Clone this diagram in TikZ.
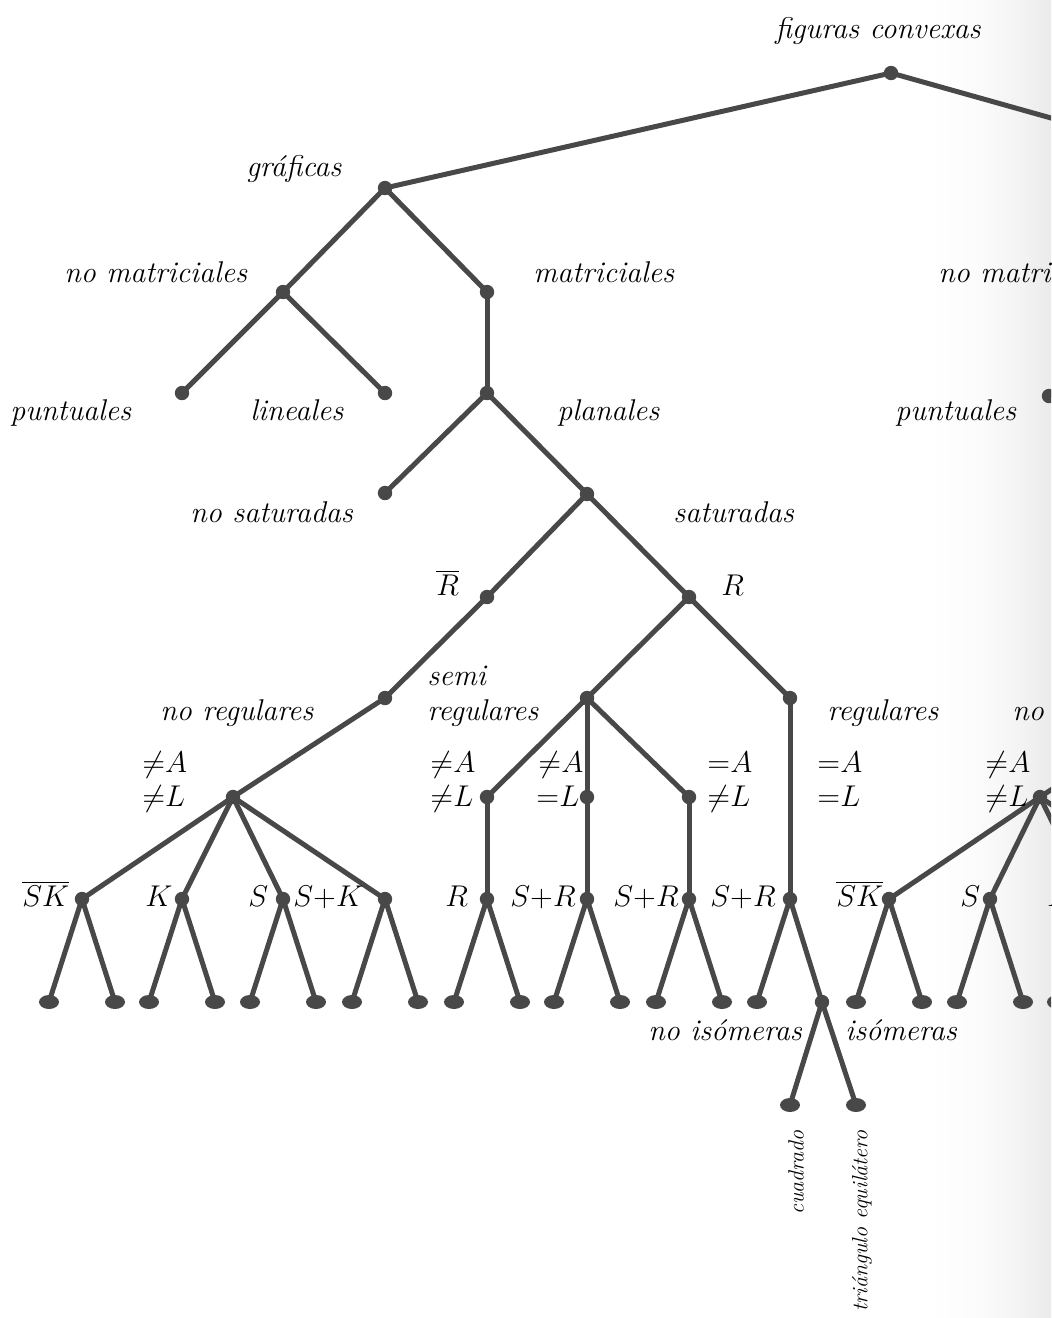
\RequirePackage{fix-cm}
\documentclass[tikz,border=0pt]{standalone}
\usepackage{fontspec}
\usetikzlibrary{shapes.geometric}
\definecolor{treegray}{RGB}{72,72,72}
\newcommand\lbfont{\fontsize{15}{18}\selectfont\itshape}
\newcommand\smallfont{\fontsize{11}{13}\selectfont\itshape}
\pgfdeclarehorizontalshading{gutter}{100bp}{rgb(0bp)=(1,1,1); rgb(25bp)=(1,1,1); rgb(45bp)=(0.985,0.985,0.985); rgb(60bp)=(0.96,0.96,0.96); rgb(75bp)=(0.92,0.92,0.92); rgb(100bp)=(0.83,0.83,0.83)}
\tikzset{
  edge/.style={draw=treegray, line width=2.5pt, line cap=round},
  dotnode/.style={circle, fill=treegray, inner sep=0pt, minimum size=7.2pt},
  leafnode/.style={ellipse, fill=treegray, inner sep=0pt, minimum width=10pt, minimum height=7pt},
  lbl/.style={font=\lbfont, inner sep=0pt, anchor=base west},
  vlbl/.style={font=\smallfont, inner sep=0pt, rotate=90, anchor=east}
}
\begin{document}
\begin{tikzpicture}[x=0.5pt, y=-0.5pt]
\useasboundingbox (0,0) rectangle (1051,1318);
\clip (0,0) rectangle (1051,1318);
% shadow of the binding along the right margin
\shade[shading=gutter] (930,0) rectangle (1051,1318);

% ---------- nodes ----------
\node[dotnode] (root) at (891,73) {};
\coordinate (rG) at (1300,188);
\node[dotnode] (g) at (385,188) {};
\node[dotnode] (nm) at (283,292) {};
\node[dotnode] (m) at (487,292) {};
\node[dotnode] (pu) at (182,393) {};
\node[dotnode] (li) at (385,393) {};
\node[dotnode] (pl) at (487,393) {};
\node[dotnode] (ns) at (385,493) {};
\node[dotnode] (sat) at (587,494) {};
\node[dotnode] (Rb) at (487,597) {};
\node[dotnode] (R) at (689,597) {};
\node[dotnode] (nr) at (385,698) {};
\node[dotnode] (na) at (233,797) {};
\node[dotnode] (semi) at (587,698) {};
\node[dotnode] (reg) at (790,698) {};
\node[dotnode] (s1) at (487,797) {};
\node[dotnode] (s2) at (587,797) {};
\node[dotnode] (s3) at (689,797) {};
% fourth level
\node[dotnode] (c1) at (82,899) {};
\node[dotnode] (c2) at (182,899) {};
\node[dotnode] (c3) at (283,899) {};
\node[dotnode] (c4) at (385,899) {};
\node[dotnode] (t1) at (487,899) {};
\node[dotnode] (t2) at (587,899) {};
\node[dotnode] (t3) at (689,899) {};
\node[dotnode] (t4) at (790,899) {};
% leaves
\foreach \n/\x in {c1/82,c2/182,c3/283,c4/385,t1/487,t2/587,t3/689}{
  \node[leafnode] (\n a) at (\x-33,1002) {};
  \node[leafnode] (\n b) at (\x+33,1002) {};
}
\node[leafnode] (t4a) at (757,1002) {};
\node[dotnode] (iso) at (822,1002) {};
\node[leafnode] (cu) at (790,1105) {};
\node[leafnode] (tr) at (856,1105) {};

% right-hand subtree (continues beyond the margin)
\coordinate (rNM) at (1150,292);
\node[dotnode] (rpu) at (1049,396) {};
\coordinate (rNR) at (1192,698);
\node[dotnode] (rna) at (1040,797) {};
\node[dotnode] (rc1) at (889,899) {};
\node[dotnode] (rc2) at (990,899) {};
\node[dotnode] (rc3) at (1090,899) {};
\node[dotnode] (rc4) at (1192,899) {};
\foreach \n/\x in {rc1/889,rc2/990,rc3/1090,rc4/1192}{
  \node[leafnode] (\n a) at (\x-33,1002) {};
  \node[leafnode] (\n b) at (\x+33,1002) {};
}

% ---------- edges ----------
\foreach \a/\b in {root/g, root/rG, g/nm, g/m, nm/pu, nm/li, m/pl, pl/ns, pl/sat,
  sat/Rb, sat/R, Rb/nr, nr/na, na/c1, na/c2, na/c3, na/c4,
  R/semi, R/reg, semi/s1, semi/s2, semi/s3, s1/t1, s2/t2, s3/t3, reg/t4,
  t4/t4a, t4/iso, iso/cu, iso/tr,
  rG/rNM, rNM/rpu, rNR/rna, rna/rc1, rna/rc2, rna/rc3, rna/rc4}
  \draw[edge] (\a.center) -- (\b.center);
\foreach \n in {c1,c2,c3,c4,t1,t2,t3,rc1,rc2,rc3,rc4}{
  \draw[edge] (\n.center) -- (\n a.center);
  \draw[edge] (\n.center) -- (\n b.center);
}

% ---------- labels ----------
\node[lbl, anchor=base] (lroot) at (878,38) {figuras convexas};
\node[lbl] (lg) at (246,176) {gráficas};
\node[lbl] (lnm) at (64,282) {no matriciales};
\node[lbl] (lm) at (533,282) {matriciales};
\node[lbl] (lrnm) at (938,282) {no matriciales};
\node[lbl] (lpu) at (10,420) {puntuales};
\node[lbl] (lli) at (250,420) {lineales};
\node[lbl] (lpl) at (557,420) {planales};
\node[lbl] (lrpu) at (895,420) {puntuales};
\node[lbl] (lns) at (190,522) {no saturadas};
\node[lbl] (lsat) at (673,522) {saturadas};
\node[lbl] (lRb) at (436,595) {$\overline{R}$};
\node[lbl] (lR) at (721,595) {$R$};
\node[lbl] (lsemi1) at (427,685) {semi};
\node[lbl] (lsemi2) at (427,720) {regulares};
\node[lbl] (lnr) at (160,720) {no regulares};
\node[lbl] (lreg) at (827,720) {regulares};
\node[lbl] (lrnr) at (1012,720) {no regulares};

\node[lbl] (a1) at (142,772) {${\neq}A$};
\node[lbl] (b1) at (142,806) {${\neq}L$};
\node[lbl] (a2) at (430,772) {${\neq}A$};
\node[lbl] (b2) at (430,806) {${\neq}L$};
\node[lbl] (a3) at (538,772) {${\neq}A$};
\node[lbl] (b3) at (536,806) {${=}L$};
\node[lbl] (a4) at (707,772) {${=}A$};
\node[lbl] (b4) at (707,806) {${\neq}L$};
\node[lbl] (a5) at (817,772) {${=}A$};
\node[lbl] (b5) at (817,806) {${=}L$};
\node[lbl] (a6) at (985,772) {${\neq}A$};
\node[lbl] (b6) at (985,806) {${\neq}L$};

\node[lbl] (lc1) at (22,906) {$\overline{SK}$};
\node[lbl] (lc2) at (145,906) {$K$};
\node[lbl] (lc3) at (248,906) {$S$};
\node[lbl] (lc4) at (293,906) {$S{+}K$};
\node[lbl] (lt1) at (445,906) {$R$};
\node[lbl] (lt2) at (510,906) {$S{+}R$};
\node[lbl] (lt3) at (613,906) {$S{+}R$};
\node[lbl] (lt4) at (710,906) {$S{+}R$};
\node[lbl] (lrc1) at (836,906) {$\overline{SK}$};
\node[lbl] (lrc2) at (960,906) {$S$};
\node[lbl] (lrc3) at (1047,906) {$K$};

\node[lbl] (lnoiso) at (648,1040) {no isómeras};
\node[lbl] (liso) at (845,1040) {isómeras};
\node[vlbl] (lcu) at (796,1130) {cuadrado};
\node[vlbl] (ltr) at (862,1130) {triángulo equilátero};
\end{tikzpicture}
\end{document}
